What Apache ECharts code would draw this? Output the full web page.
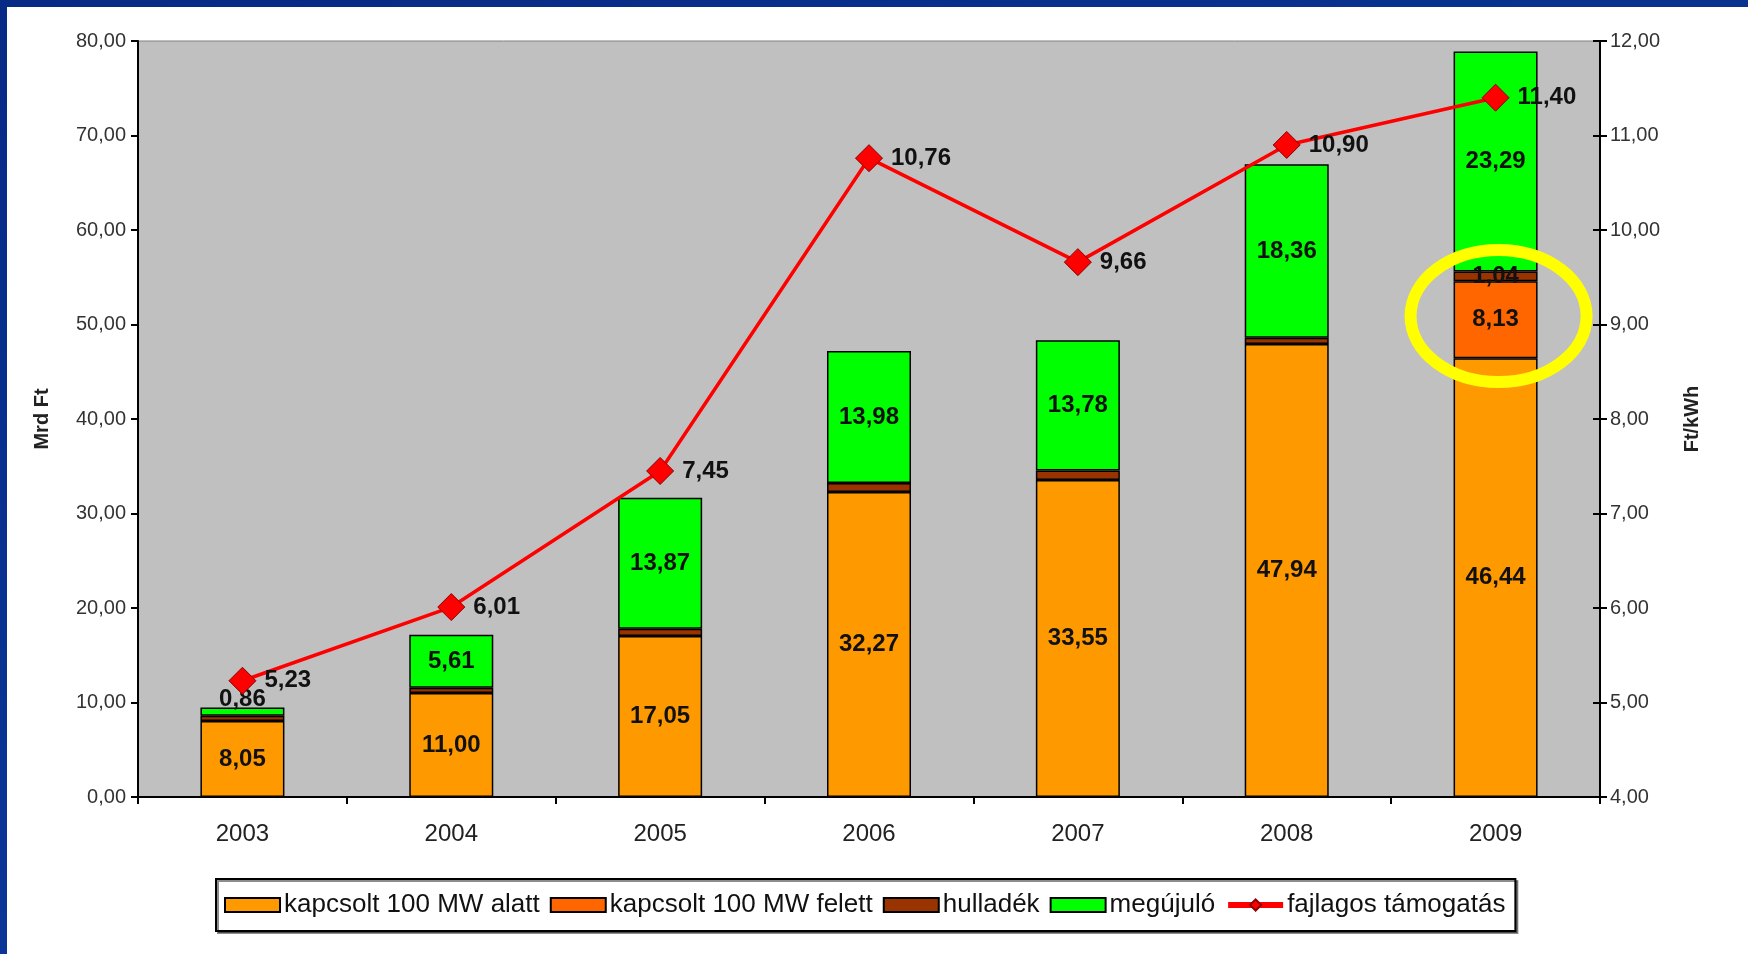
<!DOCTYPE html>
<html>
<head>
<meta charset="utf-8">
<script src="https://cdn.jsdelivr.net/npm/echarts@6/dist/echarts.min.js"></script>
<style>
  html, body { margin: 0; padding: 0; background: #ffffff; }
  #wrap { position: relative; width: 1748px; height: 954px; overflow: hidden; background: #ffffff; }
  #chart { position: absolute; left: 0; top: 0; width: 1748px; height: 954px; }
  .bandTop { position: absolute; left: 0; top: 0; width: 1748px; height: 7px; background: linear-gradient(90deg, #062a86, #0a3390); }
  .bandLeft { position: absolute; left: 0; top: 0; width: 7px; height: 954px; background: linear-gradient(180deg, #062a86, #0b3596); }
</style>
</head>
<body>
<div id="wrap">
  <div id="chart"></div>
  <div class="bandTop"></div>
  <div class="bandLeft"></div>
</div>
<script>
// ---- data ----
const years = ['2003', '2004', '2005', '2006', '2007', '2008', '2009'];
const alatt = [8.05, 11.00, 17.05, 32.27, 33.55, 47.94, 46.44];        // kapcsolt 100 MW alatt
const felett = ['-', '-', '-', '-', '-', '-', 8.13];                    // kapcsolt 100 MW felett
const hulladek = [0.55, 0.57, 0.75, 0.95, 1.00, 0.65, 1.04];           // hulladék (estimated, only 2009 labelled)
const megujulo = [0.86, 5.61, 13.87, 13.98, 13.78, 18.36, 23.29];      // megújuló
const fajlagos = [5.23, 6.01, 7.45, 10.76, 9.66, 10.90, 11.40];        // fajlagos támogatás (Ft/kWh)
const leftTicks = { min: 0, max: 80, interval: 10 };
const rightTicks = { min: 4, max: 12, interval: 1 };
const seriesNames = ['kapcsolt 100 MW alatt', 'kapcsolt 100 MW felett', 'hulladék', 'megújuló', 'fajlagos támogatás'];

const FONT = '"Liberation Sans", Arial, sans-serif';
const fmt = v => Number(v).toFixed(2).replace('.', ',');

const barLabel = {
  show: true, position: 'inside', fontFamily: FONT, fontSize: 24, fontWeight: 'bold', color: '#111',
  formatter: p => fmt(p.value)
};
const barStyle = c => ({ color: c, borderColor: '#000', borderWidth: 1.5 });
const BW = 84;

const chart = echarts.init(document.getElementById('chart'), null, { renderer: 'canvas' });

const option = {
  animation: false,
  backgroundColor: 'transparent',
  textStyle: { fontFamily: FONT },
  grid: { left: 138, right: 148, top: 41, bottom: 157, show: true, backgroundColor: '#C0C0C0', borderColor: '#808080', borderWidth: 1 },
  legend: {
    left: 216, top: 879,
    padding: [13, 10, 13, 8],
    itemWidth: 55, itemHeight: 14, itemGap: 10,
    borderColor: '#000', borderWidth: 2,
    backgroundColor: '#fff',
    shadowColor: 'rgba(0,0,0,0.45)', shadowOffsetX: 2, shadowOffsetY: 2, shadowBlur: 0,
    textStyle: { fontFamily: FONT, fontSize: 26, color: '#111', padding: [0, 0, 0, -1] },
    data: [
      { name: seriesNames[0], icon: 'rect' },
      { name: seriesNames[1], icon: 'rect' },
      { name: seriesNames[2], icon: 'rect' },
      { name: seriesNames[3], icon: 'rect' },
      { name: seriesNames[4], lineStyle: { width: 6 } }
    ]
  },
  xAxis: {
    type: 'category', data: years, boundaryGap: true,
    axisLine: { lineStyle: { color: '#000', width: 2 } },
    axisTick: { show: true, length: 7, alignWithLabel: false, lineStyle: { color: '#000', width: 2 } },
    axisLabel: { fontFamily: FONT, fontSize: 24, color: '#222', margin: 25 }
  },
  yAxis: [
    {
      type: 'value', min: leftTicks.min, max: leftTicks.max, interval: leftTicks.interval, position: 'left',
      name: 'Mrd Ft', nameLocation: 'middle', nameGap: 86, nameRotate: 90,
      nameTextStyle: { fontFamily: FONT, fontSize: 20, fontWeight: 'bold', color: '#222' },
      axisLine: { show: true, lineStyle: { color: '#000', width: 2 } },
      axisTick: { show: true, length: 7, lineStyle: { color: '#000', width: 2 } },
      axisLabel: { fontFamily: FONT, fontSize: 20, color: '#333', margin: 12, formatter: v => fmt(v) },
      splitLine: { show: false }
    },
    {
      type: 'value', min: rightTicks.min, max: rightTicks.max, interval: rightTicks.interval, position: 'right',
      name: 'Ft/kWh', nameLocation: 'middle', nameGap: 82, nameRotate: 90,
      nameTextStyle: { fontFamily: FONT, fontSize: 20, fontWeight: 'bold', color: '#222' },
      axisLine: { show: true, lineStyle: { color: '#000', width: 2 } },
      axisTick: { show: true, length: 7, lineStyle: { color: '#000', width: 2 } },
      axisLabel: { fontFamily: FONT, fontSize: 20, color: '#333', margin: 10, formatter: v => fmt(v) },
      splitLine: { show: false }
    },
    {
      type: 'value', min: rightTicks.min, max: rightTicks.max, interval: rightTicks.interval, position: 'right',
      axisLine: { show: false },
      axisTick: { show: true, inside: true, length: 7, lineStyle: { color: '#000', width: 2 } },
      axisLabel: { show: false },
      splitLine: { show: false }
    }
  ],
  series: [
    {
      name: seriesNames[0], type: 'bar', stack: 'tot', barWidth: BW, data: alatt,
      itemStyle: barStyle('#FF9900'), label: barLabel, z: 2
    },
    {
      name: seriesNames[1], type: 'bar', stack: 'tot', barWidth: BW, data: felett,
      itemStyle: barStyle('#FF6600'), label: barLabel, z: 2
    },
    {
      name: seriesNames[2], type: 'bar', stack: 'tot', barWidth: BW,
      data: hulladek.map((v, i) => i === 6 ? { value: v, label: { show: true } } : v),
      itemStyle: barStyle('#993300'), label: Object.assign({}, barLabel, { show: false }), z: 2
    },
    {
      name: seriesNames[3], type: 'bar', stack: 'tot', barWidth: BW,
      data: megujulo.map((v, i) => i === 0 ? { value: v, label: { position: 'top', distance: -4 } } : v),
      itemStyle: barStyle('#00FF00'), label: barLabel, z: 2
    },
    {
      name: seriesNames[4], type: 'line', yAxisIndex: 1, data: fajlagos,
      symbol: 'diamond', symbolSize: 27,
      lineStyle: { color: '#FF0000', width: 3.5 },
      itemStyle: { color: '#FF0000', borderColor: '#8B0000', borderWidth: 1 },
      label: { show: true, position: 'right', distance: 8, fontFamily: FONT, fontSize: 24, fontWeight: 'bold', color: '#111', formatter: p => fmt(p.value) },
      z: 5
    }
  ]
};
chart.setOption(option);

// yellow hand-drawn highlight around the 2009 "felett" segment
const c = chart.convertToPixel({ xAxisIndex: 0, yAxisIndex: 0 }, [years[6], 51]);
chart.setOption({
  graphic: [{
    type: 'ellipse', z: 100,
    shape: { cx: c[0] + 3, cy: c[1] + 1, rx: 88, ry: 66 },
    style: { fill: 'none', stroke: '#FFFF00', lineWidth: 12 }
  }]
});
</script>
</body>
</html>
